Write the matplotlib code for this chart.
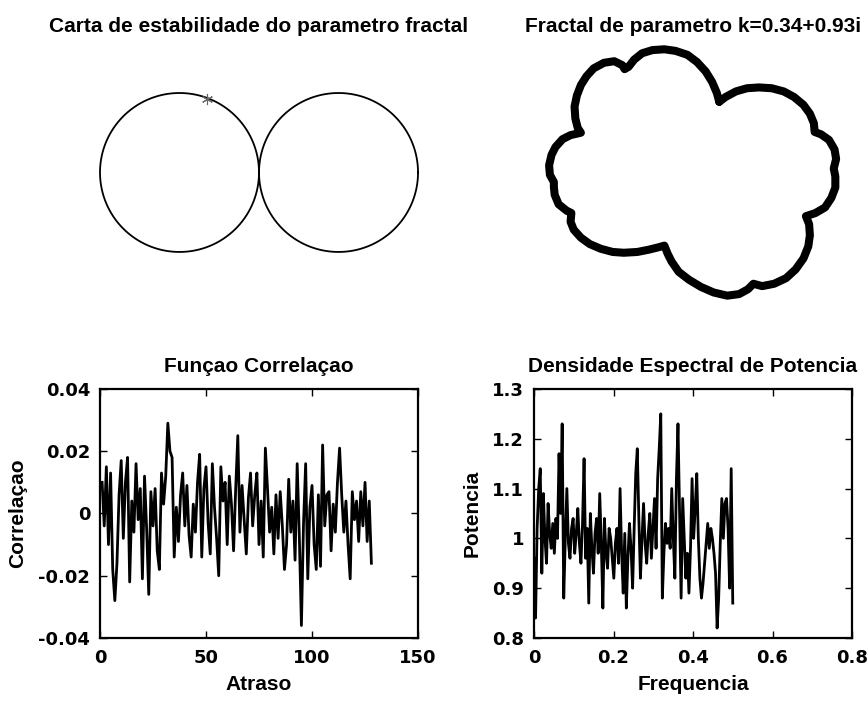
import numpy as np
import matplotlib.pyplot as plt

plt.rcParams['font.family'] = ['Liberation Sans', 'DejaVu Sans']

# parametro do fractal
k_re = 0.34
k_im = 0.93

# centros e raio das duas circunferencias da carta de estabilidade
centros = [-1.0, 1.0]
raio = 1.0

# contorno do fractal
fractal_x = [0.33, 0.30, 0.24, 0.16, 0.05, -0.07, -0.22, -0.36, -0.51, -0.64,
             -0.74, -0.81, -0.86, -0.89, -0.99, -1.12, -1.25, -1.34, -1.41, -1.46,
             -1.49, -1.48, -1.45, -1.41, -1.54, -1.64, -1.73, -1.78, -1.81, -1.80,
             -1.75, -1.75, -1.74, -1.69, -1.59, -1.53, -1.54, -1.50, -1.41, -1.30,
             -1.16, -1.01, -0.87, -0.70, -0.55, -0.43, -0.36, -0.32, -0.27, -0.18,
             -0.05, 0.10, 0.26, 0.43, 0.58, 0.69, 0.76, 0.87, 1.02, 1.17,
             1.29, 1.39, 1.45, 1.47, 1.46, 1.42, 1.54, 1.66, 1.74, 1.79,
             1.79, 1.77, 1.80, 1.78, 1.71, 1.61, 1.53, 1.52, 1.47, 1.39,
             1.27, 1.14, 0.99, 0.83, 0.68, 0.54, 0.41, 0.33]
fractal_y = [0.89, 1.00, 1.14, 1.27, 1.39, 1.48, 1.53, 1.55, 1.54, 1.50,
             1.42, 1.33, 1.30, 1.35, 1.40, 1.38, 1.31, 1.21, 1.10, 0.97,
             0.83, 0.68, 0.56, 0.50, 0.47, 0.42, 0.32, 0.22, 0.09, -0.03,
             -0.12, -0.18, -0.28, -0.40, -0.48, -0.51, -0.62, -0.72, -0.82, -0.90,
             -0.96, -1.00, -1.01, -1.00, -0.97, -0.94, -0.92, -1.02, -1.12, -1.25,
             -1.35, -1.44, -1.51, -1.55, -1.53, -1.47, -1.40, -1.43, -1.40, -1.33,
             -1.22, -1.08, -0.93, -0.79, -0.65, -0.55, -0.51, -0.44, -0.32, -0.19,
             -0.05, 0.05, 0.17, 0.29, 0.41, 0.48, 0.51, 0.62, 0.74, 0.85,
             0.95, 1.02, 1.06, 1.07, 1.06, 1.02, 0.95, 0.89]

# funcao correlacao (atraso 1..128)
correlacao = [0.010, -0.004, 0.015, -0.010, 0.013, -0.018, -0.028, -0.016, 0.006, 0.017,
              -0.008, 0.010, 0.018, -0.022, 0.004, -0.006, 0.016, -0.002, 0.008, -0.021,
              0.012, -0.005, -0.026, 0.007, -0.004, 0.008, -0.012, -0.018, 0.013, 0.003,
              0.012, 0.029, 0.020, 0.018, -0.014, 0.002, -0.009, 0.006, 0.013, -0.004,
              0.009, -0.007, -0.014, 0.003, -0.006, 0.010, 0.019, -0.014, 0.008, 0.015,
              -0.003, -0.013, 0.016, 0.002, -0.008, -0.020, 0.015, 0.004, 0.010, -0.010,
              0.012, 0.003, -0.012, 0.008, 0.025, -0.006, 0.009, -0.002, -0.013, 0.005,
              0.013, -0.004, 0.006, 0.013, -0.010, 0.004, -0.014, 0.021, 0.008, -0.006,
              0.002, -0.013, 0.006, -0.008, 0.007, -0.004, -0.018, -0.010, 0.011, -0.006,
              0.004, -0.015, 0.016, -0.007, -0.036, -0.003, 0.016, -0.021, 0.002, 0.009,
              -0.010, -0.018, 0.006, -0.017, 0.022, -0.004, 0.006, 0.007, -0.012, 0.003,
              -0.006, 0.010, 0.021, 0.006, -0.006, 0.004, -0.010, -0.021, 0.007, -0.002,
              0.004, -0.009, 0.007, -0.004, 0.010, -0.009, 0.004, -0.016]

# densidade espectral de potencia (frequencia 0..0.5)
potencia = [0.96, 0.84, 1.02, 1.10, 1.14, 0.93, 1.09, 1.00, 0.95, 1.07,
            1.01, 0.98, 1.03, 0.97, 1.04, 1.00, 1.17, 1.05, 1.23, 0.88,
            1.00, 1.10, 0.99, 0.96, 1.02, 1.04, 0.97, 1.01, 1.06, 0.99,
            0.95, 1.03, 1.16, 0.96, 1.02, 0.87, 1.05, 0.98, 0.93, 1.01,
            1.04, 0.97, 1.09, 0.99, 0.86, 1.04, 0.97, 0.94, 1.02, 1.00,
            0.96, 0.92, 0.99, 1.02, 0.95, 1.10, 0.97, 0.89, 1.01, 0.86,
            0.96, 1.03, 0.98, 0.90, 1.02, 1.13, 1.18, 1.04, 0.92, 1.00,
            1.07, 0.99, 0.95, 1.01, 1.05, 0.96, 1.02, 1.08, 0.98, 1.12,
            1.18, 1.25, 0.88, 0.97, 1.03, 0.99, 1.02, 0.98, 1.10, 1.00,
            0.92, 1.12, 1.23, 1.06, 0.88, 1.08, 1.00, 0.92, 0.97, 0.89,
            0.98, 1.12, 1.00, 1.06, 1.13, 1.00, 0.92, 0.88, 0.91, 0.95,
            0.99, 1.03, 0.98, 1.02, 1.00, 0.97, 0.93, 0.82, 0.88, 0.99,
            1.08, 1.00, 1.07, 1.08, 1.02, 0.90, 1.14, 0.87]

atraso = np.arange(1, len(correlacao) + 1)
freq = np.linspace(0, 0.5, len(potencia))

fig = plt.figure(figsize=(8.68, 7.04), dpi=100)

ax1 = fig.add_axes([0.1152, 0.5668, 0.3664, 0.3764])
ax2 = fig.add_axes([0.6152, 0.5668, 0.3664, 0.3764])
ax3 = fig.add_axes([0.1152, 0.0938, 0.3664, 0.3537])
ax4 = fig.add_axes([0.6152, 0.0938, 0.3664, 0.3537])

txt = dict(fontsize=15, fontweight='bold')

# carta de estabilidade
t = np.linspace(0, 2 * np.pi, 400)
for c in centros:
    ax1.plot(c + raio * np.cos(t), raio * np.sin(t), color='black', lw=1.3, clip_on=False)
ax1.plot(k_re - 1, k_im, marker=(6, 2, 0), color='0.4', ms=8, mew=0.8, clip_on=False)
ax1.set_xlim(-2, 2)
ax1.set_ylim(-1.667, 1.667)
ax1.axis('off')
ax1.set_title('Carta de estabilidade do parametro fractal', pad=6, **txt)

# fractal
ax2.plot(fractal_x, fractal_y, color='black', lw=5.8, solid_joinstyle='round',
         solid_capstyle='round', clip_on=False)
ax2.set_xlim(-2, 2)
ax2.set_ylim(-1.667, 1.667)
ax2.axis('off')
ax2.set_title('Fractal de parametro k=%.2f+%.2fi' % (k_re, k_im), pad=6, **txt)

# correlacao
ax3.plot(atraso, correlacao, color='black', lw=2.0)
ax3.set_xlim(0, 150)
ax3.set_ylim(-0.04, 0.04)
ax3.set_xticks([0, 50, 100, 150])
ax3.set_xticklabels(['0', '50', '100', '150'])
ax3.set_yticks([-0.04, -0.02, 0, 0.02, 0.04])
ax3.set_yticklabels(['-0.04', '-0.02', '0', '0.02', '0.04'])
ax3.set_title('Funçao Correlaçao', pad=12, **txt)
ax3.set_xlabel('Atraso', labelpad=6, **txt)
ax3.set_ylabel('Correlaçao', labelpad=8, **txt)

# potencia
ax4.plot(freq, potencia, color='black', lw=2.0)
ax4.set_xlim(0, 0.8)
ax4.set_ylim(0.8, 1.3)
ax4.set_xticks([0, 0.2, 0.4, 0.6, 0.8])
ax4.set_xticklabels(['0', '0.2', '0.4', '0.6', '0.8'])
ax4.set_yticks([0.8, 0.9, 1.0, 1.1, 1.2, 1.3])
ax4.set_yticklabels(['0.8', '0.9', '1', '1.1', '1.2', '1.3'])
ax4.set_title('Densidade Espectral de Potencia', pad=12, **txt)
ax4.set_xlabel('Frequencia', labelpad=6, **txt)
ax4.set_ylabel('Potencia', labelpad=8, **txt)

for ax in (ax3, ax4):
    ax.tick_params(direction='in', top=True, right=True, length=5, width=1,
                   labelsize=13, labelfontfamily='DejaVu Sans')
    ax.tick_params(axis='x', pad=8)
    ax.tick_params(axis='y', pad=7)
    for lbl in ax.get_xticklabels() + ax.get_yticklabels():
        lbl.set_fontweight('bold')
    for s in ax.spines.values():
        s.set_linewidth(1.6)

fig.savefig('out.png', dpi=100)
